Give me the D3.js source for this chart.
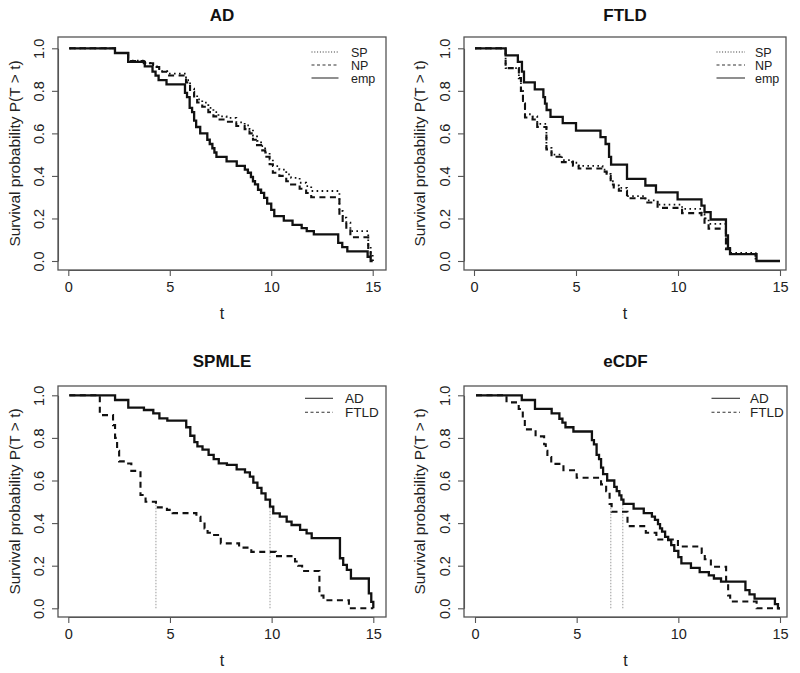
<!DOCTYPE html>
<html><head><meta charset="utf-8">
<script src="https://cdn.jsdelivr.net/npm/d3@7"></script>
<style>
html,body{margin:0;padding:0;background:#fff;}
svg{display:block;font-family:"Liberation Sans",Arial,Helvetica,sans-serif;}
</style></head>
<body>
<svg id="chart" width="800" height="673"></svg>
<script>
// ---------------- data (step functions: [time, survival]) ----------------
const adSP = [[0.05,1],[2.3,0.978],[2.95,0.942],[3.72,0.931],[4.18,0.915],[4.48,0.892],[4.87,0.881],[5.8,0.85],[6.0,0.81],[6.2,0.78],[6.35,0.76],[6.6,0.745],[6.9,0.72],[7.15,0.70],[7.4,0.68],[7.8,0.673],[8.28,0.652],[8.69,0.638],[8.93,0.618],[9.1,0.59],[9.3,0.565],[9.5,0.54],[9.7,0.51],[9.92,0.477],[10.08,0.446],[10.4,0.43],[10.74,0.407],[10.98,0.391],[11.4,0.368],[11.72,0.352],[11.97,0.329],[13.36,0.235],[13.52,0.204],[13.7,0.18],[13.9,0.14],[14.78,0.07],[14.9,0.03],[15,0]];
const adNP = [[0.05,1],[2.3,0.978],[2.95,0.94],[3.72,0.93],[4.18,0.912],[4.48,0.89],[4.87,0.872],[5.8,0.84],[6.0,0.795],[6.2,0.765],[6.35,0.745],[6.6,0.725],[6.9,0.70],[7.15,0.68],[7.4,0.665],[7.8,0.655],[8.28,0.635],[8.69,0.62],[8.93,0.60],[9.1,0.57],[9.3,0.545],[9.5,0.52],[9.7,0.49],[9.92,0.455],[10.08,0.415],[10.4,0.40],[10.74,0.375],[10.98,0.36],[11.4,0.34],[11.72,0.32],[11.97,0.30],[13.36,0.21],[13.52,0.18],[13.7,0.15],[13.9,0.112],[14.78,0.05],[14.9,0.02],[15,0]];
const adEmp = [[0.05,1],[2.3,0.978],[2.95,0.936],[3.77,0.915],[4.15,0.89],[4.3,0.872],[4.45,0.85],[4.84,0.83],[5.75,0.79],[5.85,0.77],[5.98,0.72],[6.1,0.70],[6.2,0.66],[6.3,0.63],[6.5,0.60],[6.85,0.57],[6.97,0.55],[7.1,0.53],[7.2,0.51],[7.3,0.49],[7.8,0.468],[8.3,0.447],[8.7,0.43],[8.85,0.415],[9.0,0.395],[9.1,0.375],[9.2,0.36],[9.35,0.335],[9.5,0.32],[9.65,0.297],[9.8,0.27],[10.0,0.24],[10.15,0.211],[10.62,0.19],[11.05,0.17],[11.5,0.155],[11.75,0.14],[12.1,0.125],[13.3,0.085],[13.5,0.065],[13.75,0.045],[14.75,0.02],[14.9,0],[15,0]];
const ftSP = [[0.05,1],[1.55,0.907],[2.2,0.86],[2.3,0.8],[2.4,0.74],[2.5,0.69],[2.87,0.68],[3.1,0.645],[3.55,0.532],[3.8,0.50],[4.31,0.474],[4.85,0.462],[5.13,0.447],[6.3,0.43],[6.5,0.41],[6.7,0.375],[6.85,0.355],[7.1,0.344],[7.5,0.305],[8.4,0.285],[9.0,0.265],[10.2,0.245],[11.15,0.22],[11.3,0.2],[11.5,0.175],[12.35,0.06],[12.55,0.038],[13.8,0],[15,0]];
const ftNP = [[0.05,1],[1.55,0.907],[2.2,0.86],[2.3,0.8],[2.4,0.74],[2.5,0.675],[2.87,0.665],[3.1,0.63],[3.55,0.525],[3.8,0.49],[4.31,0.465],[4.85,0.448],[5.13,0.435],[6.3,0.42],[6.5,0.40],[6.7,0.36],[6.85,0.34],[7.1,0.33],[7.5,0.295],[8.4,0.275],[9.0,0.25],[10.2,0.225],[11.15,0.2],[11.3,0.18],[11.5,0.152],[12.35,0.055],[12.55,0.033],[13.8,0],[15,0]];
const ftEmp = [[0.05,1],[1.55,0.967],[2.15,0.936],[2.35,0.89],[2.45,0.84],[2.98,0.807],[3.4,0.77],[3.48,0.74],[3.56,0.71],[3.75,0.678],[4.35,0.648],[5.0,0.613],[6.2,0.582],[6.45,0.55],[6.62,0.49],[6.72,0.453],[7.5,0.386],[8.4,0.355],[8.92,0.323],[9.98,0.29],[11.15,0.26],[11.3,0.23],[11.6,0.195],[12.35,0.12],[12.45,0.06],[12.55,0.032],[13.85,0],[15,0]];
const spmleMedians = [4.31, 9.92];
const ecdfMedians = [6.68, 7.27];

const xTicks = [0, 5, 10, 15];
const yTicks = [0, 0.2, 0.4, 0.6, 0.8, 1.0];
const titles = ["AD", "FTLD", "SPMLE", "eCDF"];
const legendTop = ["SP", "NP", "emp"];
const legendBottom = ["AD", "FTLD"];
const xTitle = "t";
const yTitle = "Survival probability P(T > t)";

// ---------------- layout ----------------
const panels = [
  {box:[58,37,386,270], x:[68.3,372.7], y:[261,48.3], title:titles[0], tY:15, ytX:15,
   series:[{d:adSP,s:"dot"},{d:adNP,s:"dash"},{d:adEmp,s:"solid"}],
   legend:{labels:legendTop, styles:["dot","dash","solid"], x1:311.5, x2:338.5, tx:351, y0:52, dy:13, fs:12.5}},
  {box:[464,37,786,270], x:[474,780], y:[261,48.3], title:titles[1], tY:15, ytX:420,
   series:[{d:ftSP,s:"dot"},{d:ftNP,s:"dash"},{d:ftEmp,s:"solid"}],
   legend:{labels:legendTop, styles:["dot","dash","solid"], x1:716.5, x2:745, tx:755, y0:52, dy:13, fs:12.5}},
  {box:[58,386,386,617], x:[68.3,373.3], y:[608.3,395.3], title:titles[2], tY:361, ytX:15,
   series:[{d:adSP,s:"solid"},{d:ftSP,s:"dash"}], medians:spmleMedians,
   legend:{labels:legendBottom, styles:["solid","dash"], x1:305, x2:333, tx:345, y0:398.3, dy:14, fs:13.5}},
  {box:[464,386,787,617], x:[475,780], y:[608.3,395.3], title:titles[3], tY:361, ytX:420,
   series:[{d:adEmp,s:"solid"},{d:ftEmp,s:"dash"}], medians:ecdfMedians,
   legend:{labels:legendBottom, styles:["solid","dash"], x1:711.5, x2:740, tx:750, y0:398.3, dy:14, fs:13.5}}
];

const svg = d3.select("#chart");
const styleMap = {
  solid:{dash:null, w:2.3},
  dash:{dash:"6,4.5", w:2.1},
  dot:{dash:"1.6,3.4", w:1.8}
};
const legStyle = {solid:null, dash:"3,2.5", dot:"1,1.8"};

panels.forEach(p => {
  const g = svg.append("g");
  const x = d3.scaleLinear().domain([0,15]).range(p.x);
  const y = d3.scaleLinear().domain([0,1]).range(p.y);
  const [bx0,by0,bx1,by1] = p.box;

  // title
  g.append("text").attr("x",(bx0+bx1)/2).attr("y",p.tY).attr("dy","0.36em")
    .attr("text-anchor","middle").attr("font-weight","bold").attr("font-size",17)
    .attr("fill","#111").text(p.title);

  // median lines
  if (p.medians) {
    g.selectAll(".med").data(p.medians).enter().append("line")
      .attr("x1",d=>x(d)).attr("x2",d=>x(d)).attr("y1",y(0)).attr("y2",y(0.49))
      .attr("stroke","#9a9a9a").attr("stroke-width",1).attr("stroke-dasharray","1.5,1.5");
  }

  // curves
  const line = d3.line().x(d=>x(d[0])).y(d=>y(d[1])).curve(d3.curveStepAfter);
  p.series.forEach(s => {
    const st = styleMap[s.s];
    g.append("path").attr("d", line(s.d)).attr("fill","none")
      .attr("stroke","#111").attr("stroke-width",st.w)
      .attr("stroke-dasharray",st.dash).attr("stroke-linejoin","miter").attr("stroke-linecap","butt");
  });

  // box
  g.append("rect").attr("x",bx0).attr("y",by0).attr("width",bx1-bx0).attr("height",by1-by0)
    .attr("fill","none").attr("stroke","#555").attr("stroke-width",1.3);

  // x axis
  const xa = g.append("g").attr("transform",`translate(0,${by1})`)
    .call(d3.axisBottom(x).tickValues(xTicks).tickSize(6).tickSizeOuter(0).tickPadding(6).tickFormat(d3.format("d")));
  xa.select(".domain").attr("stroke","#555").attr("stroke-width",1.1);
  xa.selectAll(".tick line").attr("stroke","#555").attr("stroke-width",1.1);
  xa.selectAll("text").attr("font-size",14.5).attr("fill","#222").attr("font-family",null);

  // y axis
  const ya = g.append("g").attr("transform",`translate(${bx0},0)`)
    .call(d3.axisLeft(y).tickValues(yTicks).tickSize(6).tickSizeOuter(0).tickFormat(d3.format(".1f")));
  ya.select(".domain").attr("stroke","#555").attr("stroke-width",1.1);
  ya.selectAll(".tick line").attr("stroke","#555").attr("stroke-width",1.1);
  ya.selectAll("text").attr("x",null).attr("dy",null).attr("font-size",14.5).attr("fill","#222")
    .attr("font-family",null).attr("text-anchor","middle")
    .attr("transform","translate(-14.5,0) rotate(-90)");

  // axis titles
  g.append("text").attr("x",(bx0+bx1)/2).attr("y",by1+43).attr("dy","0.35em")
    .attr("text-anchor","middle").attr("font-size",16).attr("fill","#222").text(xTitle);
  g.append("text").attr("transform",`translate(${p.ytX},${(by0+by1)/2}) rotate(-90)`).attr("dy","0.35em")
    .attr("text-anchor","middle").attr("font-size",15.5).attr("fill","#222").text(yTitle);

  // legend
  const L = p.legend;
  L.labels.forEach((lab,i) => {
    const yy = L.y0 + i*L.dy;
    g.append("line").attr("x1",L.x1).attr("x2",L.x2).attr("y1",yy).attr("y2",yy)
      .attr("stroke","#333").attr("stroke-width",1.1).attr("stroke-dasharray",legStyle[L.styles[i]]);
    g.append("text").attr("x",L.tx).attr("y",yy).attr("dy","0.36em")
      .attr("font-size",L.fs).attr("fill","#222").text(lab);
  });
});
</script>
</body></html>
